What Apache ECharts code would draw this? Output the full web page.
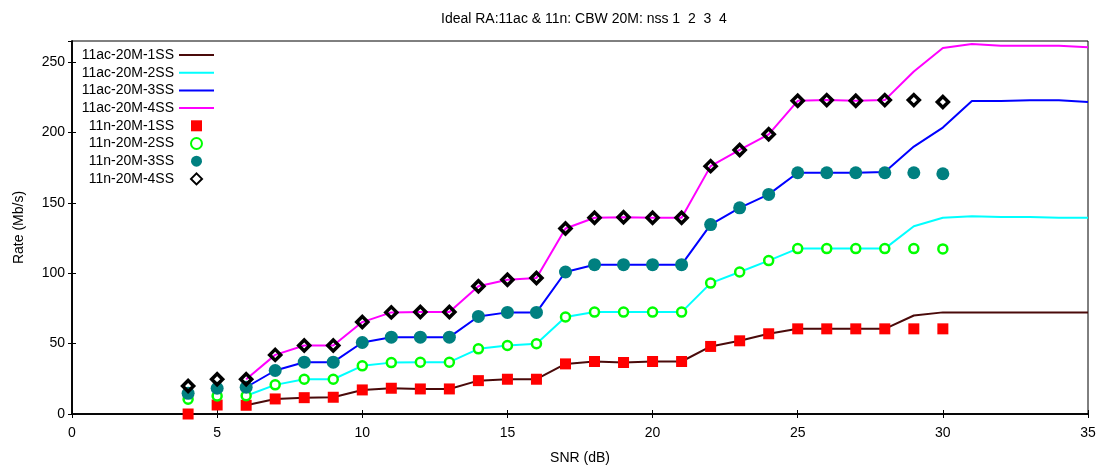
<!DOCTYPE html>
<html>
<head>
<meta charset="utf-8">
<script src="https://cdn.jsdelivr.net/npm/echarts@6/dist/echarts.min.js"></script>
<style>
  html, body { margin: 0; padding: 0; background: #fff; }
  #chart { width: 1105px; height: 471px; }
</style>
</head>
<body>
<div id="chart"></div>
<script>
// SNR points
var snrAc = [6, 7, 8, 9, 10, 11, 12, 13, 14, 15, 16, 17, 18, 19, 20, 21, 22, 23, 24, 25, 26, 27, 28, 29, 30, 31, 32, 33, 34, 35];
var snrN = [4, 5, 6, 7, 8, 9, 10, 11, 12, 13, 14, 15, 16, 17, 18, 19, 20, 21, 22, 23, 24, 25, 26, 27, 28, 29, 30];

// 11ac (lines)
var ac1 = [6.2, 10.7, 11.6, 11.9, 17.1, 18.3, 17.8, 17.8, 23.7, 24.7, 24.7, 35.6, 37.3, 36.6, 37.3, 37.3, 48, 52, 57, 60.5, 60.5, 60.5, 60.5, 70, 72.2, 72.2, 72.2, 72.2, 72.2, 72.2];
var ac2 = [13, 20.7, 24.7, 24.7, 34.2, 36.5, 36.8, 36.8, 46.3, 48.7, 49.9, 68.9, 72.4, 72.4, 72.4, 72.4, 93, 100.9, 109, 117.5, 117.5, 117.5, 117.5, 133.4, 139.4, 140.5, 140, 140, 139.5, 139.4];
var ac3 = [19, 30.9, 36.8, 36.8, 50.8, 54.6, 54.6, 54.6, 69.3, 72.2, 72.2, 100.9, 106.1, 106.1, 106.1, 106.1, 134.6, 146.5, 156, 171.4, 171.4, 171.4, 172, 190, 203.5, 222.4, 222.4, 222.9, 222.9, 221.7];
var ac4 = [24.7, 42, 48.7, 48.7, 65.3, 72.2, 72.4, 72.4, 90.7, 95.4, 96.6, 131.8, 139.4, 139.8, 139.4, 139.4, 176.1, 187.6, 198.7, 222.5, 223, 222.5, 223, 243.3, 260, 262.8, 261.6, 261.6, 261.6, 260.5];

// 11n (markers)
var n1 = [0, 6.4, 6.2, 10.7, 11.6, 11.9, 17.1, 18.3, 17.8, 17.8, 23.7, 24.7, 24.7, 35.6, 37.3, 36.6, 37.3, 37.3, 48, 52, 57, 60.5, 60.5, 60.5, 60.5, 60.5, 60.5];
var n2 = [10.5, 12.8, 13, 20.7, 24.7, 24.7, 34.2, 36.5, 36.8, 36.8, 46.3, 48.7, 49.9, 68.9, 72.4, 72.4, 72.4, 72.4, 93, 100.9, 109, 117.5, 117.5, 117.5, 117.5, 117.5, 117.3];
var n3 = [14.7, 18.3, 19, 30.9, 36.8, 36.8, 50.8, 54.6, 54.6, 54.6, 69.3, 72.2, 72.2, 100.9, 106.1, 106.1, 106.1, 106.1, 134.6, 146.5, 156, 171.4, 171.4, 171.4, 171.4, 171.4, 170.7];
var n4 = [19.9, 24.7, 24.7, 42, 48.7, 48.7, 65.3, 72.2, 72.4, 72.4, 90.7, 95.4, 96.6, 131.8, 139.4, 139.8, 139.4, 139.4, 176.1, 187.6, 198.7, 222.5, 223, 222.5, 223, 223, 221.7];

var names = ['11ac-20M-1SS', '11ac-20M-2SS', '11ac-20M-3SS', '11ac-20M-4SS',
             '11n-20M-1SS', '11n-20M-2SS', '11n-20M-3SS', '11n-20M-4SS'];
var xTicks = [0, 35, 5];     // min, max, interval
var yTicks = [0, 265, 50];

function pairs(xs, ys) {
  return xs.map(function (x, i) { return [x, ys[i]]; });
}

var font = 'Liberation Sans';
var squarePath = 'path://M0,0L10,0L10,10L0,10Z';
var diamondPath = 'path://M5,0L10,5L5,10L0,5Z';

function lineSeries(name, ys, color) {
  return {
    name: name, type: 'line', data: pairs(snrAc, ys),
    symbol: 'none', z: 2, animation: false,
    lineStyle: { color: color, width: 2 },
    itemStyle: { color: color }
  };
}

// line entries: hide the marker the line legend icon adds
var legendData = names.map(function (n, i) {
  if (i < 4) return { name: n, itemStyle: { opacity: 0 } };
  if (i === 4) return { name: n, icon: squarePath, symbolKeepAspect: true };
  if (i === 7) return { name: n, icon: diamondPath, symbolKeepAspect: true };
  return { name: n };
});

var chart = echarts.init(document.getElementById('chart'));
var option = {
  backgroundColor: '#fff',
  animation: false,
  title: {
    text: 'Ideal RA:11ac & 11n: CBW 20M: nss 1  2  3  4',
    left: 436, top: 7,
    textStyle: { fontFamily: font, fontSize: 14, fontWeight: 'normal', color: '#000' }
  },
  legend: {
    orient: 'vertical', align: 'right',
    right: 890, top: 48, padding: 0, symbolKeepAspect: true,
    itemWidth: 35, itemHeight: 11, itemGap: 3.7,
    textStyle: { fontFamily: font, fontSize: 14, color: '#000', lineHeight: 13 },
    data: legendData
  },
  grid: { left: 72, right: 17, top: 41, bottom: 57, show: true, borderColor: '#000', borderWidth: 1 },
  xAxis: [{
    type: 'value', min: xTicks[0], max: xTicks[1], interval: xTicks[2],
    name: 'SNR (dB)', nameLocation: 'middle', nameGap: 37,
    nameTextStyle: { fontFamily: font, fontSize: 14, color: '#000' },
    axisLine: { lineStyle: { color: '#000', width: 1.5 } },
    axisTick: { inside: true, length: 4, lineStyle: { color: '#000' } },
    axisLabel: { fontFamily: font, fontSize: 14, color: '#000', margin: 12 },
    splitLine: { show: false }
  }, {
    type: 'value', position: 'top', min: xTicks[0], max: xTicks[1], interval: xTicks[2],
    axisLine: { lineStyle: { color: '#000', width: 1.5 } },
    axisTick: { inside: true, length: 4, lineStyle: { color: '#000' } },
    axisLabel: { show: false }, splitLine: { show: false }
  }],
  yAxis: [{
    type: 'value', min: yTicks[0], max: yTicks[1], interval: yTicks[2],
    name: 'Rate (Mb/s)', nameLocation: 'middle', nameGap: 46,
    nameTextStyle: { fontFamily: font, fontSize: 14, color: '#000' },
    axisLine: { show: true, lineStyle: { color: '#000', width: 1.5 } },
    axisTick: { show: true, inside: true, length: 4, lineStyle: { color: '#000' } },
    axisLabel: { fontFamily: font, fontSize: 14, color: '#000', margin: 7, showMaxLabel: false },
    splitLine: { show: false }
  }, {
    type: 'value', position: 'right', min: yTicks[0], max: yTicks[1], interval: yTicks[2],
    axisLine: { show: true, lineStyle: { color: '#000', width: 1.5 } },
    axisTick: { show: true, inside: true, length: 4, lineStyle: { color: '#000' } },
    axisLabel: { show: false }, splitLine: { show: false }
  }],
  series: [
    lineSeries(names[0], ac1, '#4a0a0a'),
    lineSeries(names[1], ac2, '#00ffff'),
    lineSeries(names[2], ac3, '#0000ff'),
    lineSeries(names[3], ac4, '#ff00ff'),
    {
      name: names[4], type: 'scatter', data: pairs(snrN, n1), z: 3,
      symbol: squarePath, symbolSize: 11, symbolKeepAspect: true,
      itemStyle: { color: '#ff0000', opacity: 1 }
    },
    {
      name: names[5], type: 'scatter', data: pairs(snrN, n2), z: 3,
      symbol: 'circle', symbolSize: 9,
      itemStyle: { color: '#ffffff', borderColor: '#00ff00', borderWidth: 2.5, opacity: 1 }
    },
    {
      name: names[6], type: 'scatter', data: pairs(snrN, n3), z: 3,
      symbol: 'circle', symbolSize: 13,
      itemStyle: { color: '#008080', opacity: 1 }
    },
    {
      name: names[7], type: 'scatter', data: pairs(snrN, n4), z: 4,
      symbol: diamondPath, symbolSize: 11, symbolKeepAspect: true,
      itemStyle: { color: 'rgba(0,0,0,0)', borderColor: '#000', borderWidth: 3.5, opacity: 1 }
    }
  ]
};
chart.setOption(option);
</script>
</body>
</html>
